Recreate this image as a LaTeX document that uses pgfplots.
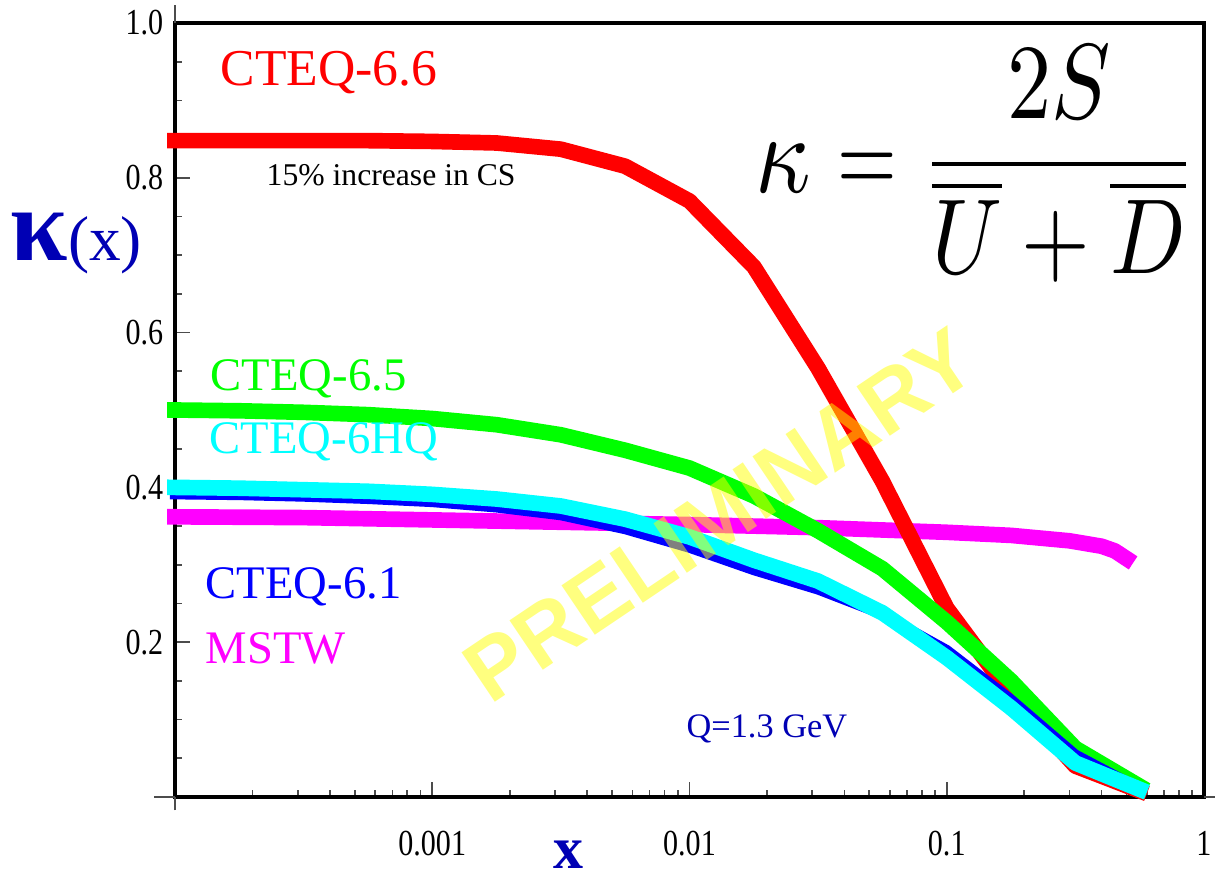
\documentclass[border=0pt]{standalone}
\usepackage{fontspec}
\setmainfont{Liberation Serif}
\newfontfamily\tickfont[FakeStretch=0.82]{Liberation Serif}
\newfontfamily\sansb{Liberation Sans}
\usepackage{graphicx}
\usepackage{pgfplots}
\pgfplotsset{compat=1.18}
\definecolor{dblue}{RGB}{0,0,180}
\definecolor{pred}{RGB}{255,0,0}
\definecolor{pgreen}{RGB}{0,255,0}
\definecolor{pcyan}{RGB}{0,255,255}
\definecolor{pblue}{RGB}{0,0,255}
\definecolor{pmag}{RGB}{255,0,255}
\definecolor{pyellow}{RGB}{255,255,0}

\pgfplotstableread{
x y
0.0001 0.848
0.000178 0.848
0.000316 0.848
0.000562 0.848
0.001 0.847
0.00178 0.845
0.00316 0.837
0.00562 0.815
0.01 0.770
0.0178 0.685
0.0316 0.554
0.0562 0.408
0.1 0.244
0.178 0.132
0.316 0.040
0.562 0.008
}\redtab
\pgfplotstableread{
x y
0.0001 0.500
0.000178 0.499
0.000316 0.497
0.000562 0.494
0.001 0.489
0.00178 0.481
0.00316 0.468
0.00562 0.448
0.01 0.425
0.0178 0.389
0.0316 0.344
0.0562 0.295
0.1 0.226
0.178 0.150
0.316 0.063
0.562 0.014
}\greentab
\pgfplotstableread{
x y
0.0001 0.400
0.000178 0.399
0.000316 0.397
0.000562 0.395
0.001 0.391
0.00178 0.385
0.00316 0.376
0.00562 0.359
0.01 0.336
0.0178 0.306
0.0316 0.279
0.0562 0.238
0.1 0.180
0.178 0.115
0.316 0.044
0.562 0.010
}\cyantab
\pgfplotstableread{
x y
0.0001 0.391
0.000178 0.390
0.000316 0.388
0.000562 0.385
0.001 0.381
0.00178 0.374
0.00316 0.364
0.00562 0.346
0.01 0.322
0.0178 0.293
0.0316 0.268
0.0562 0.236
0.1 0.190
0.178 0.126
0.316 0.055
0.562 0.011
}\bluetab
\pgfplotstableread{
x y
0.0001 0.362
0.000316 0.361
0.001 0.358
0.00316 0.355
0.01 0.352
0.0316 0.348
0.1 0.342
0.178 0.338
0.3 0.331
0.4 0.324
0.45 0.318
0.5 0.308
}\magtab

\begin{document}
\begin{tikzpicture}
\path[use as bounding box] (0,0) rectangle (364.5pt,263.4pt);
\begin{axis}[
  at={(52.5pt,24.3pt)}, anchor=south west,
  scale only axis, width=308.7pt, height=232.2pt,
  xmode=log, xmin=1e-4, xmax=1, ymin=0, ymax=1,
  clip=false,
  xtick={0.001,0.01,0.1,1}, xticklabels={0.001,0.01,0.1,1},
  ytick={0.2,0.4,0.6,0.8,1.0}, yticklabels={0.2,0.4,0.6,0.8,1.0},
  minor xtick={0.0002,0.0003,0.0004,0.0005,0.0006,0.0007,0.0008,0.0009,
    0.002,0.003,0.004,0.005,0.006,0.007,0.008,0.009,
    0.02,0.03,0.04,0.05,0.06,0.07,0.08,0.09,
    0.2,0.3,0.4,0.5,0.6,0.7,0.8,0.9},
  minor ytick={0.05,0.1,0.15,0.25,0.3,0.35,0.45,0.5,0.55,0.65,0.7,0.75,0.85,0.9,0.95},
  tick pos=left, tick align=inside,
  major tick length=4.5pt, minor tick length=2.1pt,
  tick style={black!70, line width=0.5pt},
  axis line style={line width=1.05pt},
  tick label style={font=\tickfont\fontsize{11}{13}\selectfont},
  xticklabel style={yshift=-6.8pt},
  extra y ticks={0}, extra y tick labels={},
  extra y tick style={tick align=outside, major tick length=6.3pt},
  extra x ticks={0.0001}, extra x tick labels={},
  extra x tick style={tick align=outside, major tick length=4pt},
  every axis plot/.append style={line cap=rect, line join=round},
]
\addplot[pmag, line width=4.7pt] table {\magtab};
\addplot[pred, line width=4.7pt] table {\redtab};
\addplot[pgreen, line width=4.7pt] table {\greentab};
\addplot[pblue, line width=3pt] table {\bluetab};
\addplot[pcyan, line width=4.7pt] table {\cyantab};
\draw[black!70, line width=0.5pt] (rel axis cs:1,0) -- ++(3.3pt,0pt);
\draw[black!70, line width=0.5pt] (rel axis cs:0,1) -- ++(0pt,5.4pt);
\end{axis}
\begin{scope}[x=0.3pt, y=-0.3pt, yshift=263.4pt]
\node[anchor=base west, inner sep=0, text=pred, font=\fontsize{15.5}{18}\selectfont] at (220,85) {CTEQ-6.6};
\node[anchor=base west, inner sep=0, text=pgreen, font=\fontsize{14}{17}\selectfont] at (210,390) {CTEQ-6.5};
\node[anchor=base west, inner sep=0, text=pcyan, font=\fontsize{14}{17}\selectfont] at (209,453) {CTEQ-6HQ};
\node[anchor=base west, inner sep=0, text=pblue, font=\fontsize{14}{17}\selectfont] at (205,598) {CTEQ-6.1};
\node[anchor=base west, inner sep=0, text=pmag, font=\fontsize{14}{17}\selectfont] at (205,663) {MSTW};
\node[anchor=base west, inner sep=0, text=black, font=\fontsize{9.5}{11}\selectfont] at (266,185) {15\% increase in CS};
\node[anchor=base west, inner sep=0, text=dblue, font=\fontsize{10.3}{12}\selectfont] at (686,737) {Q=1.3 GeV};
\node[anchor=base west, inner sep=0, text=dblue] at (10,260) {{\fontsize{31}{31}\selectfont\bfseries κ}{\fontsize{19}{20}\selectfont(x)}};
\node[anchor=base, inner sep=0, text=dblue, font=\fontsize{18}{20}\selectfont\bfseries] at (568,868) {x};
\node[anchor=base west, inner sep=0] at (755,192) {\scalebox{2.9}[3.4]{$\kappa$}};
\node[anchor=base, inner sep=0] at (867,193) {\scalebox{2.3}[3.3]{$=$}};
\node[anchor=base, inner sep=0] at (1059,191) {\scalebox{2.65}[3.2]{$\displaystyle\frac{2S}{\overline{U}+\overline{D}}$}};
\node[rotate=34, text=pyellow, text opacity=0.5, font=\sansb\bfseries\fontsize{26}{26}\selectfont] at (720,515) {PRELIMINARY};
\end{scope}
\end{tikzpicture}
\end{document}
